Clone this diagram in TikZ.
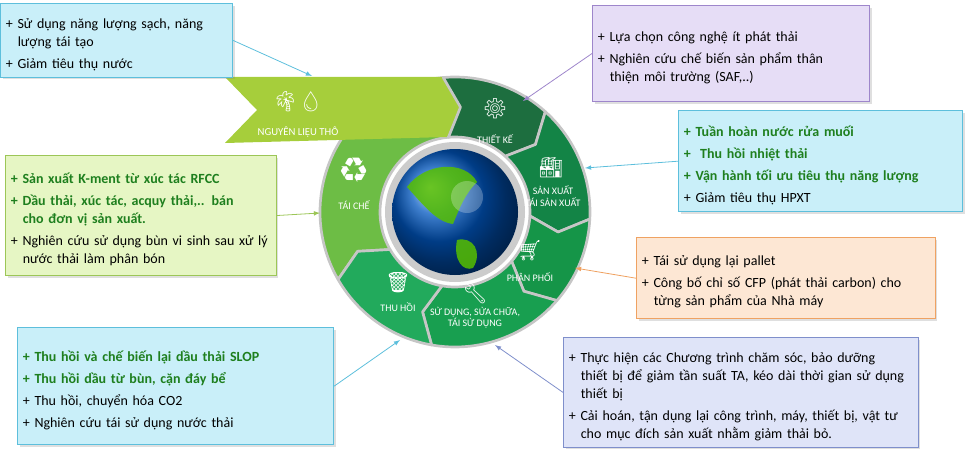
\documentclass[tikz,border=0pt]{standalone}
\usepackage{fontspec}
\setmainfont{Carlito}
\newfontfamily\emo{Noto Emoji}
\newfontfamily\djv{DejaVu Sans}
\usetikzlibrary{shadows,positioning}

\definecolor{okgreen}{HTML}{1E7F1E}
\definecolor{cyanfill}{HTML}{C9EFF9}
\definecolor{cyanline}{HTML}{5DBFDC}
\definecolor{lavfill}{HTML}{E6DDF6}
\definecolor{lavline}{HTML}{9E86CB}
\definecolor{grnfill}{HTML}{E6F6C4}
\definecolor{grnline}{HTML}{9CC657}
\definecolor{orgfill}{HTML}{FDE7D4}
\definecolor{orgline}{HTML}{EFA262}
\definecolor{blufill}{HTML}{DFE4F8}
\definecolor{bluline}{HTML}{7F8FCB}
\definecolor{segTK}{HTML}{1D6E3F}
\definecolor{segSX}{HTML}{138446}
\definecolor{segPP}{HTML}{159548}
\definecolor{segSD}{HTML}{189F50}
\definecolor{segTH}{HTML}{22AA5C}
\definecolor{segTC}{HTML}{6DBD45}
\definecolor{ribbon}{HTML}{A6CE3B}

\newcommand\itm[1]{\par\hangindent=0.85em\hangafter=1+ #1\par\vspace{3pt}}
\newcommand\itb[1]{\par\hangindent=0.85em\hangafter=1{\bfseries\color{okgreen}+ #1}\par\vspace{3pt}}
\newcommand\brk{\\\hspace*{0.85em}}
% ring segment: start angle, end angle, colour
\newcommand\seg[3]{\fill[#3,draw=gray!45,line width=2pt,line join=round]
  (#1:101.25pt) arc[start angle=#1,end angle=#2,radius=101.25pt]
  -- (#2-8:78.75pt) -- (#2:56.25pt) arc[start angle=#2,end angle=#1,radius=56.25pt]
  -- (#1-8:78.75pt) -- cycle;}

\tikzset{
  infobox/.style={draw=#1line,fill=#1fill,line width=0.8pt,anchor=north west,
    align=left,inner xsep=4pt,inner ysep=5pt,font=\fontsize{10.5}{13.5}\selectfont,
    drop shadow={opacity=0.25,shadow xshift=1.5pt,shadow yshift=-1.5pt}},
  seglabel/.style={text=white,font=\fontsize{7.5}{8.5}\selectfont,align=center},
  segicon/.style={text=white,font=\emo\fontsize{15}{15}\selectfont},
  arrow/.style={line width=0.6pt,-latex,#1}
}

\begin{document}
\begin{tikzpicture}[x=0.75pt,y=0.75pt]
\useasboundingbox (0,0) rectangle (974,-460);

% ring
\begin{scope}[shift={(455,-212)}]
\seg{210}{95}{segTC}
\end{scope}
\fill[ribbon] (225,-77) -- (449,-77) -- (461,-107) -- (447,-137)
  -- (225,-143) -- (257,-110) -- cycle;
\begin{scope}[shift={(455,-212)}]
\seg{95}{48}{segTK}
\seg{48}{-3}{segSX}
\seg{-3}{-41}{segPP}
\seg{-41}{-100}{segSD}
\seg{-100}{-150}{segTH}
\fill[gray!40] (0,0) circle (70);
\shade[ball color=blue!55!cyan!75!black] (0,0) circle (63);
\fill[lime!60!green!75!black,opacity=0.85] (-48,25) .. controls (-30,50) and (10,52) .. (22,30)
  .. controls (10,18) and (5,5) .. (-2,-12) .. controls (-18,-10) and (-30,5) .. (-48,25);
\fill[lime!60!green!75!black,opacity=0.85] (2,-28) .. controls (18,-24) and (28,-40) .. (18,-56)
  .. controls (8,-60) and (-2,-48) .. (2,-28);
\fill[white,opacity=0.25] (12,15) circle (16);
\end{scope}

% segment labels and icons
\node[seglabel] (lblTK) at (495,-139) {THIẾT KẾ};
\node[segicon] (icoTK) at (495,-109) {⚙};
\node[seglabel] (lblSX) at (553,-196) {SẢN XUẤT\\TÁI SẢN XUẤT};
\node[segicon] (icoSX) at (551,-168) {🏭};
\node[seglabel] (lblPP) at (530,-277) {PHÂN PHỐI};
\node[segicon] (icoPP) at (530,-251) {🛒};
\node[seglabel] (lblSD) at (475,-318) {SỬ DỤNG, SỬA CHỮA,\\TÁI SỬ DỤNG};
\node[segicon] (icoSD) at (475,-294) {🔧};
\node[seglabel] (lblTH) at (398,-307) {THU HỒI};
\node[segicon] (icoTH) at (398,-283) {🗑};
\node[seglabel] (lblTC) at (354,-205) {TÁI CHẾ};
\node[text=white,font=\djv\fontsize{26}{26}\selectfont] (icoTC) at (354,-170) {♻};
\node[seglabel,font=\fontsize{8}{9}\selectfont] (lblNL) at (298,-132) {NGUYÊN LIỆU THÔ};
\node[segicon] (icoNL) at (298,-102) {🌴💧};

% info boxes
\node[infobox=cyan,text width=166pt,minimum height=50pt] (boxA) at (0,-3)
  {\itm{Sử dụng năng lượng sạch, năng lượng tái tạo}\itm{Giảm tiêu thụ nước}};
\node[infobox=lav,text width=200pt,minimum height=72pt] (boxB) at (592,-5)
  {\itm{Lựa chọn công nghệ ít phát thải}\itm{Nghiên cứu chế biến sản phẩm thân\brk thiện môi trường (SAF,..)}};
\node[infobox=cyan,text width=205pt,minimum height=76pt] (boxC) at (678,-110)
  {\itb{Tuần hoàn nước rửa muối}\itb{ Thu hồi nhiệt thải}\itb{Vận hành tối ưu tiêu thụ năng lượng}\itm{Giảm tiêu thụ HPXT}};
\node[infobox=grn,text width=195pt,minimum height=90pt] (boxD) at (5,-155)
  {\itb{Sản xuất K-ment từ xúc tác RFCC}\itb{Dầu thải, xúc tác, acquy thải,.. bán\brk cho đơn vị sản xuất.}\itm{Nghiên cứu sử dụng bùn vi sinh sau xử lý nước thải làm phân bón}};
\node[infobox=org,text width=216pt,minimum height=61pt] (boxE) at (636,-237)
  {\itm{Tái sử dụng lại pallet}\itm{Công bố chỉ số CFP (phát thải carbon) cho từng sản phẩm của Nhà máy}};
\node[infobox=cyan,text width=229pt,minimum height=88pt] (boxF) at (17,-327)
  {\itb{Thu hồi và chế biến lại dầu thải SLOP}\itb{Thu hồi dầu từ bùn, cặn đáy bể}\itm{Thu hồi, chuyển hóa CO2}\itm{Nghiên cứu tái sử dụng nước thải}};
\node[infobox=blu,text width=258pt,minimum height=81pt] (boxG) at (563,-337)
  {\itm{Thực hiện các Chương trình chăm sóc, bảo dưỡng\brk thiết bị để giảm tần suất TA, kéo dài thời gian sử dụng\brk thiết bị}\itm{Cải hoán, tận dụng lại công trình, máy, thiết bị, vật tư cho mục đích sản xuất nhằm giảm thải bỏ.}};

% arrow targets
\coordinate (tNL) at (312,-76);
\coordinate (tTK) at (523,-101);
\coordinate (tSX) at (585,-168);
\coordinate (tTC) at (320,-213);
\coordinate (tPP) at (575,-268);
\coordinate (tTH) at (400,-340);
\coordinate (tSD) at (495,-345);

\draw[arrow=cyanline] (boxA.east) -- (tNL);
\draw[arrow=lavline] (boxB.west) -- (tTK);
\draw[arrow=cyanline] (boxC.west) -- (tSX);
\draw[arrow=grnline] (boxD.east) -- (tTC);
\draw[arrow=orgline] (boxE.west) -- (tPP);
\draw[arrow=cyanline] (boxF.east) -- (tTH);
\draw[arrow=bluline] (boxG.west) -- (tSD);
\end{tikzpicture}
\end{document}
